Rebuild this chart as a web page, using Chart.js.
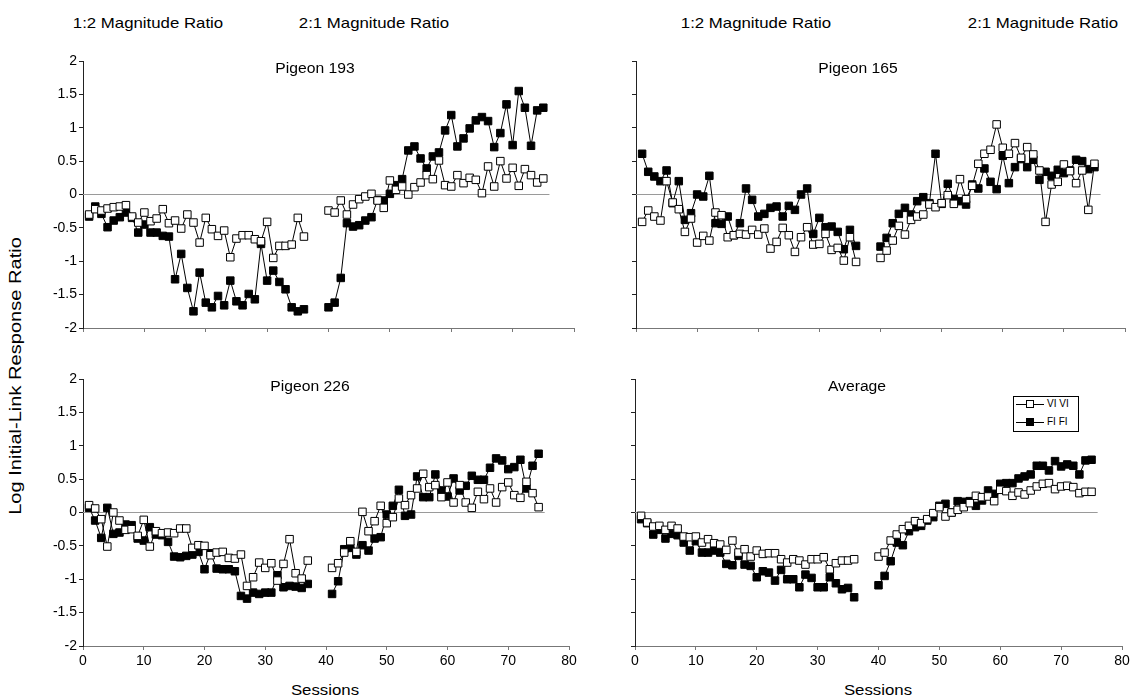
<!DOCTYPE html>
<html>
<head>
<meta charset="utf-8">
<title>Log Initial-Link Response Ratio</title>
<script src="https://cdn.jsdelivr.net/npm/chart.js@4.4.0/dist/chart.umd.min.js"></script>
<style>
    body { margin: 0; background: #fff; font-family: "Liberation Sans", Arial, sans-serif; color: #000; }
    #page { position: relative; width: 1132px; height: 698px; overflow: hidden; }
    canvas { position: absolute; }
    .lbl { position: absolute; white-space: nowrap; transform: translate(-50%, -50%) scaleX(1.12); }
    .top-lbl { font-size: 15px; }
    .title { font-size: 14px; }
    .axis-title { font-size: 15px; }
    #ytitle { font-size: 17px; transform: translate(-50%, -50%) rotate(-90deg) scaleX(1.18); }
    #legend { position: absolute; left: 1013px; top: 396px; width: 64px; height: 34px; border: 1px solid #000; background: #fff; font-size: 10px; }
    #legend .line { position: absolute; left: 2px; width: 28px; border-top: 1px solid #000; }
    #legend .sq { position: absolute; left: 12px; width: 6px; height: 6px; border: 1px solid #000; }
    #legend .txt { position: absolute; left: 33px; line-height: 12px; }
</style>
</head>
<body>
<div id="page">
    <div class="lbl top-lbl" style="left:148px; top:22px;">1:2 Magnitude Ratio</div>
    <div class="lbl top-lbl" style="left:374px; top:22px;">2:1 Magnitude Ratio</div>
    <div class="lbl top-lbl" style="left:756px; top:22px;">1:2 Magnitude Ratio</div>
    <div class="lbl top-lbl" style="left:1043px; top:22px;">2:1 Magnitude Ratio</div>

    <div class="lbl" id="ytitle" style="left:16px; top:376px;">Log Initial-Link Response Ratio</div>

    <canvas id="p193"></canvas>
    <canvas id="p165"></canvas>
    <canvas id="p226"></canvas>
    <canvas id="avg"></canvas>

    <div class="lbl title" style="left:315px; top:68px;">Pigeon 193</div>
    <div class="lbl title" style="left:858px; top:68px;">Pigeon 165</div>
    <div class="lbl title" style="left:310px; top:386px;">Pigeon 226</div>
    <div class="lbl title" style="left:857px; top:386px;">Average</div>

    <div class="lbl axis-title" style="left:325px; top:689px;">Sessions</div>
    <div class="lbl axis-title" style="left:878px; top:689px;">Sessions</div>

    <div id="legend">
        <div class="line" style="top:7px;"></div>
        <div class="sq" style="top:3px; background:#fff;"></div>
        <div class="txt" style="top:1px;">VI VI</div>
        <div class="line" style="top:25px;"></div>
        <div class="sq" style="top:21px; background:#000;"></div>
        <div class="txt" style="top:19px;">FI FI</div>
    </div>
</div>

<script>
// ======================
// Data
// ======================
const xTicks = [0, 10, 20, 30, 40, 50, 60, 70, 80];
const yTicks = [-2, -1.5, -1, -0.5, 0, 0.5, 1, 1.5, 2];
const zeroLineX = [0, 76];

const sessionsMain = [
    1, 2, 3, 4, 5, 6, 7, 8, 9, 10, 11, 12, 13, 14, 15, 16, 17, 18,
    19, 20, 21, 22, 23, 24, 25, 26, 27, 28, 29, 30, 31, 32, 33, 34, 35, 36,
    40, 41, 42, 43, 44, 45, 46, 47, 48, 49, 50, 51, 52, 53, 54, 55, 56, 57,
    58, 59, 60, 61, 62, 63, 64, 65, 66, 67, 68, 69, 70, 71, 72, 73, 74, 75
];
const sessions226 = [
    1, 2, 3, 4, 5, 6, 7, 8, 9, 10, 11, 12, 13, 14, 15, 16, 17, 18, 19,
    20, 21, 22, 23, 24, 25, 26, 27, 28, 29, 30, 31, 32, 33, 34, 35, 36, 37,
    41, 42, 43, 44, 45, 46, 47, 48, 49, 50, 51, 52, 53, 54, 55, 56, 57, 58,
    59, 60, 61, 62, 63, 64, 65, 66, 67, 68, 69, 70, 71, 72, 73, 74, 75
];

// Pigeon 193
const p193VI = [
    -0.30, -0.22, -0.24, -0.21, -0.19, -0.18, -0.16, -0.33, -0.42, -0.27, -0.40, -0.36,
    -0.22, -0.43, -0.39, -0.51, -0.30, -0.42, -0.72, -0.35, -0.52, -0.62, -0.54, -0.94,
    -0.66, -0.61, -0.61, -0.67, -0.70, -0.41, -0.95, -0.77, -0.77, -0.75, -0.35, -0.63,
    -0.24, -0.27, -0.09, -0.30, -0.15, -0.07, -0.03, 0.01, -0.09, -0.20, 0.21, 0.07,
    0.12, 0.00, 0.11, 0.18, 0.29, 0.23, 0.51, 0.14, 0.12, 0.29, 0.17, 0.25,
    0.22, 0.02, 0.42, 0.12, 0.50, 0.24, 0.40, 0.13, 0.38, 0.29, 0.18, 0.24
];
const p193FI = [
    -0.33, -0.18, -0.29, -0.49, -0.39, -0.34, -0.27, -0.35, -0.57, -0.45, -0.57, -0.57,
    -0.62, -0.63, -1.27, -0.89, -1.40, -1.75, -1.17, -1.62, -1.69, -1.52, -1.66, -1.29,
    -1.60, -1.66, -1.49, -1.57, -0.74, -1.29, -1.14, -1.31, -1.42, -1.69, -1.75, -1.72,
    -1.69, -1.62, -1.25, -0.43, -0.48, -0.46, -0.39, -0.34, -0.08, -0.09, 0.01, 0.14,
    0.23, 0.66, 0.72, 0.54, 0.39, 0.57, 0.63, 0.96, 1.19, 0.72, 0.84, 0.99,
    1.11, 1.16, 1.10, 0.71, 0.92, 1.35, 0.74, 1.55, 1.30, 0.73, 1.26, 1.30
];

// Pigeon 165
const p165VI = [
    -0.41, -0.24, -0.33, -0.39, 0.20, -0.12, -0.22, -0.56, -0.36, -0.72, -0.62, -0.69,
    -0.27, -0.31, -0.64, -0.61, -0.59, -0.60, -0.53, -0.60, -0.51, -0.81, -0.71, -0.50,
    -0.61, -0.86, -0.64, -0.49, -0.75, -0.74, -0.59, -0.83, -0.80, -0.99, -0.64, -1.01,
    -0.95, -0.84, -0.69, -0.47, -0.60, -0.38, -0.33, -0.30, -0.15, -0.19, -0.13, -0.01,
    -0.14, 0.23, -0.07, 0.13, 0.46, 0.61, 0.67, 1.05, 0.70, 0.61, 0.77, 0.55,
    0.71, 0.60, 0.36, -0.41, 0.15, 0.19, 0.45, 0.35, 0.17, 0.36, -0.23, 0.46
];
const p165FI = [
    0.61, 0.34, 0.27, 0.20, 0.36, -0.13, 0.20, -0.38, -0.28, 0.00, -0.03, 0.28,
    -0.43, -0.44, -0.33, -0.61, -0.43, 0.09, -0.08, -0.33, -0.29, -0.20, -0.18, -0.33,
    -0.17, -0.23, 0.00, 0.09, -0.59, -0.35, -0.49, -0.48, -0.56, -0.82, -0.53, -0.77,
    -0.78, -0.65, -0.43, -0.29, -0.20, -0.30, -0.10, -0.04, -0.13, 0.61, -0.14, 0.16,
    -0.07, -0.10, -0.15, 0.15, 0.09, 0.39, 0.19, 0.08, 0.58, 0.17, 0.41, 0.53,
    0.41, 0.52, 0.22, 0.34, 0.28, 0.37, 0.32, 0.36, 0.52, 0.50, 0.38, 0.41
];

// Pigeon 226
const p226VI = [
    0.11, 0.06, -0.10, -0.51, 0.00, -0.12, -0.26, -0.25, -0.35, -0.11, -0.51, -0.28,
    -0.31, -0.30, -0.31, -0.24, -0.24, -0.53, -0.49, -0.50, -0.64, -0.60, -0.59, -0.68,
    -0.69, -0.63, -1.10, -0.97, -0.75, -0.83, -0.76, -1.02, -0.77, -0.40, -0.91, -0.99, -0.72,
    -0.83, -0.76, -0.60, -0.43, -0.59, 0.01, -0.28, -0.13, 0.10, -0.16, -0.07, 0.21,
    0.11, 0.26, 0.36, 0.58, 0.38, 0.41, 0.23, 0.45, 0.15, 0.41, 0.15, 0.07,
    0.31, 0.20, 0.36, 0.15, 0.38, 0.45, 0.26, 0.22, 0.46, 0.29, 0.08
];
const p226FI = [
    0.07, -0.12, -0.38, 0.07, -0.32, -0.30, -0.18, -0.19, -0.39, -0.42, -0.22, -0.33,
    -0.34, -0.44, -0.66, -0.67, -0.65, -0.63, -0.59, -0.85, -0.61, -0.84, -0.85, -0.85,
    -0.88, -1.25, -1.29, -1.20, -1.22, -1.20, -1.20, -0.94, -1.12, -1.10, -1.11, -1.13, -1.07,
    -1.22, -1.03, -0.55, -0.53, -0.63, -0.49, -0.57, -0.39, -0.37, -0.03, 0.10, 0.34,
    -0.05, -0.03, 0.54, 0.23, 0.23, 0.57, 0.33, 0.24, 0.51, 0.33, 0.40, 0.55,
    0.49, 0.49, 0.67, 0.81, 0.78, 0.65, 0.68, 0.79, 0.36, 0.70, 0.88
];

// Average
const avgVI = [
    -0.05, -0.15, -0.21, -0.20, -0.26, -0.20, -0.24, -0.36, -0.37, -0.36, -0.45, -0.40,
    -0.46, -0.48, -0.56, -0.42, -0.60, -0.55, -0.66, -0.57, -0.62, -0.61, -0.61, -0.70,
    -0.75, -0.70, -0.72, -0.78, -0.70, -0.70, -0.67, -0.85, -0.76, -0.72, -0.72, -0.70,
    -0.66, -0.60, -0.42, -0.33, -0.25, -0.20, -0.13, -0.16, -0.10, -0.01, 0.08, -0.06,
    0.00, 0.04, 0.08, 0.14, 0.25, 0.23, 0.24, 0.17, 0.34, 0.32, 0.25, 0.30,
    0.27, 0.33, 0.39, 0.43, 0.44, 0.35, 0.39, 0.40, 0.38, 0.29, 0.31, 0.31
];
const avgFI = [
    -0.10, -0.16, -0.33, -0.26, -0.39, -0.32, -0.34, -0.45, -0.57, -0.43, -0.60, -0.60,
    -0.57, -0.60, -0.77, -0.79, -0.65, -0.78, -0.80, -0.97, -0.88, -0.90, -1.02, -0.86,
    -1.00, -1.00, -1.12, -0.93, -0.98, -1.12, -1.12, -0.97, -1.06, -1.15, -1.13, -1.27,
    -1.09, -0.95, -0.73, -0.45, -0.49, -0.28, -0.22, -0.20, -0.12, -0.07, 0.10, 0.13,
    0.00, 0.17, 0.16, 0.17, 0.10, 0.18, 0.33, 0.28, 0.43, 0.44, 0.44, 0.51,
    0.54, 0.57, 0.70, 0.70, 0.63, 0.77, 0.69, 0.72, 0.70, 0.57, 0.78, 0.79
];

// ======================
// Layout of the four panels (plot area in page pixels)
// ======================
const Y_AXIS_W = 50;
const X_AXIS_H = 30;
const PAD_TOP = 10;
const PAD_RIGHT = 10;

const panels = [
    { id: 'p193', sessions: sessionsMain, vi: p193VI, fi: p193FI, left: 83, top: 61, right: 574, bottom: 328, xLabels: false, yLabels: true },
    { id: 'p165', sessions: sessionsMain, vi: p165VI, fi: p165FI, left: 636, top: 61, right: 1125, bottom: 328, xLabels: false, yLabels: false },
    { id: 'p226', sessions: sessions226, vi: p226VI, fi: p226FI, left: 83, top: 379, right: 569, bottom: 646, xLabels: true, yLabels: true },
    { id: 'avg', sessions: sessionsMain, vi: avgVI, fi: avgFI, left: 635, top: 379, right: 1122, bottom: 646, xLabels: true, yLabels: false }
];

// turn sessions + values into points, with a null between the two phases
function toPoints(sessions, values) {
    const pts = [];
    sessions.forEach((s, i) => {
        if (i > 0 && s - sessions[i - 1] > 1) {
            pts.push({ x: s - 1, y: null });
        }
        pts.push({ x: s, y: values[i] });
    });
    return pts;
}

function drawPanel(p) {
    const canvas = document.getElementById(p.id);
    const w = (p.right - p.left) + Y_AXIS_W + PAD_RIGHT;
    const h = (p.bottom - p.top) + PAD_TOP + X_AXIS_H;
    canvas.width = w;
    canvas.height = h;
    canvas.style.width = w + 'px';
    canvas.style.height = h + 'px';
    canvas.style.left = (p.left - Y_AXIS_W) + 'px';
    canvas.style.top = (p.top - PAD_TOP) + 'px';

    const tickFont = { family: '"Liberation Sans", Arial, sans-serif', size: 14 };

    new Chart(canvas.getContext('2d'), {
        type: 'line',
        data: {
            datasets: [
                {
                    label: 'VI VI',
                    data: toPoints(p.sessions, p.vi),
                    borderColor: '#000',
                    borderWidth: 1,
                    pointStyle: 'rect',
                    pointRadius: 5.3,
                    pointBorderWidth: 1,
                    pointBorderColor: '#000',
                    pointBackgroundColor: '#fff',
                    spanGaps: false,
                    tension: 0
                },
                {
                    label: 'FI FI',
                    data: toPoints(p.sessions, p.fi),
                    borderColor: '#000',
                    borderWidth: 1,
                    pointStyle: 'rect',
                    pointRadius: 5.3,
                    pointBorderWidth: 1,
                    pointBorderColor: '#000',
                    pointBackgroundColor: '#000',
                    spanGaps: false,
                    tension: 0
                },
                {
                    label: 'zero',
                    data: zeroLineX.map(x => ({ x: x, y: 0 })),
                    borderColor: '#9a9a9a',
                    borderWidth: 1,
                    pointRadius: 0
                }
            ]
        },
        options: {
            responsive: false,
            animation: false,
            devicePixelRatio: 1,
            layout: { padding: { top: PAD_TOP, right: PAD_RIGHT, left: 0, bottom: 0 } },
            plugins: { legend: { display: false }, tooltip: { enabled: false } },
            scales: {
                x: {
                    type: 'linear',
                    min: 0,
                    max: 80,
                    afterBuildTicks: scale => { scale.ticks = xTicks.map(v => ({ value: v })); },
                    afterFit: scale => { scale.height = X_AXIS_H; scale.paddingLeft = 0; scale.paddingRight = 0; },
                    ticks: {
                        font: tickFont,
                        color: '#000',
                        padding: 3,
                        maxRotation: 0,
                        callback: v => p.xLabels ? String(v) : ''
                    },
                    grid: { drawOnChartArea: false, drawTicks: true, tickLength: 4, color: '#777' },
                    border: { display: true, color: '#777', width: 1 }
                },
                y: {
                    type: 'linear',
                    min: -2,
                    max: 2,
                    afterBuildTicks: scale => { scale.ticks = yTicks.map(v => ({ value: v })); },
                    afterFit: scale => { scale.width = Y_AXIS_W; scale.paddingTop = 0; scale.paddingBottom = 0; },
                    ticks: {
                        font: tickFont,
                        color: '#000',
                        padding: 2,
                        callback: v => p.yLabels ? String(v) : ''
                    },
                    grid: { drawOnChartArea: false, drawTicks: true, tickLength: 4, color: '#222' },
                    border: { display: true, color: '#222', width: 1 }
                }
            }
        }
    });
}

document.addEventListener('DOMContentLoaded', function() {
    panels.forEach(drawPanel);
});
</script>
</body>
</html>
